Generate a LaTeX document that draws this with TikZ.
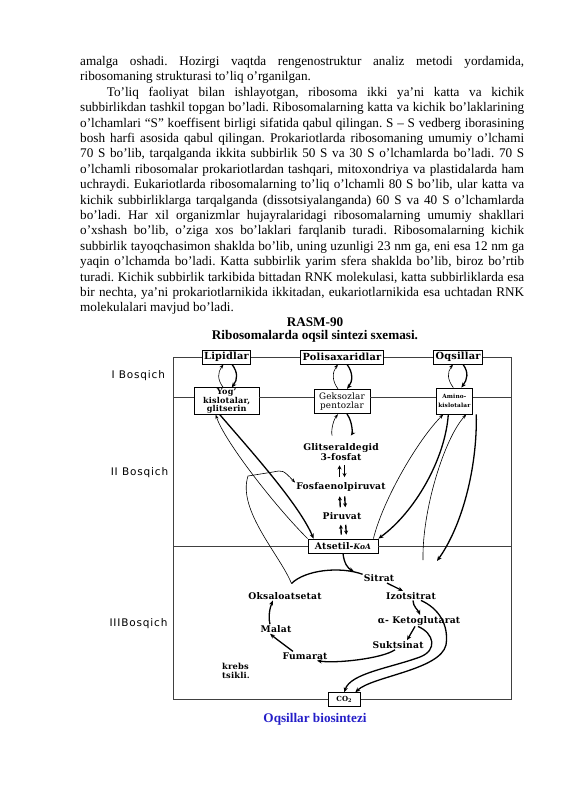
\documentclass[tikz,border=0pt]{standalone}
\usepackage{fontspec}
\setmainfont{Liberation Serif}
\newfontfamily\schemefont[LetterSpace=2]{DejaVu Serif}
\newfontfamily\stagefont[LetterSpace=8]{DejaVu Sans}
\usetikzlibrary{arrows.meta}
\definecolor{captionblue}{RGB}{36,30,200}

\begin{document}
\begin{tikzpicture}[x=1pt, y=-1pt]

\tikzstyle{topbox}=[draw, line width=0.8pt, inner xsep=2pt, inner ysep=1pt, minimum height=14pt, font=\schemefont\bfseries\fontsize{9.8}{11}\selectfont]
\tikzstyle{subbox}=[draw, line width=0.8pt, inner xsep=2pt, inner ysep=1pt, align=center, font=\schemefont\bfseries\fontsize{8.1}{8.3}\selectfont]
\tikzstyle{metab}=[inner sep=1pt, font=\schemefont\bfseries\fontsize{9.2}{10}\selectfont]
\tikzstyle{stage}=[font=\stagefont\fontsize{10.5}{11}\selectfont]
\tikzstyle{frameline}=[line width=0.6pt, black!75]
\tikzstyle{thinarrow}=[-{Stealth[length=4.5pt,width=3.2pt]}, line width=0.6pt]
\tikzstyle{thickarrow}=[-{Stealth[length=5pt,width=4.2pt]}, line width=1.3pt]
\tikzstyle{updown}=[-{Stealth[length=4pt,width=4pt]}, line width=1.4pt, shorten <=4pt, shorten >=4pt]

\useasboundingbox (0,0) rectangle (565,800);

% matn
\node[anchor=base west, inner sep=0] (body) at (80,65.5) {\parbox[t]{444pt}{\fontsize{13.2}{15.4}\selectfont\frenchspacing
\makebox[\linewidth][s]{amalga oshadi. Hozirgi vaqtda rengenostruktur analiz metodi yordamida,}\\
ribosomaning strukturasi to’liq o’rganilgan.\\
\hspace*{26.7pt}\makebox[417.3pt][s]{To’liq faoliyat bilan ishlayotgan, ribosoma ikki ya’ni katta va kichik}\\
\makebox[\linewidth][s]{subbirlikdan tashkil topgan bo’ladi. Ribosomalarning katta va kichik bo’laklarining}\\
\makebox[\linewidth][s]{o’lchamlari “S” koeffisent birligi sifatida qabul qilingan. S – S vedberg iborasining}\\
\makebox[\linewidth][s]{bosh harfi asosida qabul qilingan. Prokariotlarda ribosomaning umumiy o’lchami}\\
\makebox[\linewidth][s]{70 S bo’lib, tarqalganda ikkita subbirlik 50 S va 30 S o’lchamlarda bo’ladi. 70 S}\\
\makebox[\linewidth][s]{o’lchamli ribosomalar prokariotlardan tashqari, mitoxondriya va plastidalarda ham}\\
\makebox[\linewidth][s]{uchraydi. Eukariotlarda ribosomalarning to’liq o’lchamli 80 S bo’lib, ular katta va}\\
\makebox[\linewidth][s]{kichik subbirliklarga tarqalganda (dissotsiyalanganda) 60 S va 40 S o’lchamlarda}\\
\makebox[\linewidth][s]{bo’ladi. Har xil organizmlar hujayralaridagi ribosomalarning umumiy shakllari}\\
\makebox[\linewidth][s]{o’xshash bo’lib, o’ziga xos bo’laklari farqlanib turadi. Ribosomalarning kichik}\\
\makebox[\linewidth][s]{subbirlik tayoqchasimon shaklda bo’lib, uning uzunligi 23 nm ga, eni esa 12 nm ga}\\
\makebox[\linewidth][s]{yaqin o’lchamda bo’ladi. Katta subbirlik yarim sfera shaklda bo’lib, biroz bo’rtib}\\
\makebox[\linewidth][s]{turadi. Kichik subbirlik tarkibida bittadan RNK molekulasi, katta subbirliklarda esa}\\
\makebox[\linewidth][s]{bir nechta, ya’ni prokariotlarnikida ikkitadan, eukariotlarnikida esa uchtadan RNK}\\
molekulalari mavjud bo’ladi.}};

\node[font=\bfseries\fontsize{13.2}{15.4}\selectfont] (rasm) at (315,321.7) {RASM-90};
\node[font=\bfseries\fontsize{13.2}{15.4}\selectfont] (title) at (315,336.7) {Ribosomalarda oqsil sintezi sxemasi.};
\node[font=\bfseries\fontsize{13.2}{15.4}\selectfont, text=captionblue] (caption) at (315,719) {Oqsillar biosintezi};

% bosqichlar
\node[stage] (st1) at (138.3,375.7) {I Bosqich};
\node[stage] (st2) at (139.5,472.7) {II Bosqich};
\node[stage] (st3) at (138.5,623.3) {IIIBosqich};

% I bosqich
\node[topbox] (lip) at (226.5,357) {Lipidlar};
\node[topbox] (polis) at (342,357) {Polisaxaridlar};
\node[topbox] (oqs) at (458,357) {Oqsillar};
\node[subbox, minimum width=64.7pt, minimum height=25.7pt] (yog) at (226.7,401) {Yog’\\kislotalar,\\glitserin};
\node[subbox, font=\schemefont\fontsize{8.8}{8.7}\selectfont, minimum width=56pt, minimum height=24.4pt] (geks) at (342,401.5) {Geksozlar\\pentozlar};
\node[subbox, font=\schemefont\bfseries\fontsize{5.8}{9}\selectfont, minimum width=36.7pt, minimum height=26pt] (amino) at (454.3,401) {Amino-\\kislotalar};

% II bosqich
\node[metab, align=center] (glits) at (341,451.7) {Glitseraldegid\\3-fosfat};
\node[metab] (fosfa) at (341,486.7) {Fosfaenolpiruvat};
\node[metab] (piruv) at (342,516) {Piruvat};
\node[metab, draw, line width=0.8pt, inner xsep=3pt, minimum width=70pt, minimum height=14pt] (atsetil) at (343,546) {Atsetil-{\fontsize{7.5}{8}\selectfont\itshape KoA}};

% III bosqich
\node[metab] (sitrat) at (379,578.3) {Sitrat};
\node[metab] (izots) at (411,595.7) {Izotsitrat};
\node[metab] (ketog) at (419,620.7) {α- Ketoglutarat};
\node[metab] (sukts) at (398,645) {Suktsinat};
\node[metab] (fumar) at (305,656) {Fumarat};
\node[metab] (malat) at (276,629) {Malat};
\node[metab] (oksal) at (285,595.7) {Oksaloatsetat};
\node[metab, align=left, font=\schemefont\bfseries\fontsize{8.3}{8.5}\selectfont] (krebs) at (236,671) {krebs\\tsikli.};
\node[draw, line width=0.8pt, inner sep=1pt, minimum width=32pt, minimum height=14pt, font=\schemefont\bfseries\fontsize{7}{8}\selectfont] (co2) at (344.3,699.7) {CO\textsubscript{2}};

% ramka
\coordinate (tl) at (173,357);
\coordinate (tr) at (511,357);
\coordinate (l2) at (173,397);
\coordinate (r2) at (511,397);
\coordinate (l3) at (173,546);
\coordinate (r3) at (511,546);
\coordinate (bl) at (173,699.7);
\coordinate (br) at (511,699.7);
\draw[frameline] (tl) -- (bl);
\draw[frameline] (tr) -- (br);
\draw[frameline] (tl) -- (lip) -- (polis) -- (oqs) -- (tr);
\draw[frameline] (l2) -- (l2 -| yog.west) (yog.east |- l2) -- (geks.west |- l2) (geks.east |- l2) -- (amino.west |- l2) (amino.east |- l2) -- (r2);
\draw[frameline] (l3) -- (atsetil) -- (r3);
\draw[frameline] (bl) -- (co2) -- (br);

% I bosqich strelkalari
\draw[thinarrow] ([xshift=-3.5pt]yog.north) .. controls +(-6,-8) and +(-6,8) .. ([xshift=-3pt]lip.south);
\draw[thickarrow] ([xshift=5.5pt]lip.south) .. controls +(6,8) and +(6,-8) .. ([xshift=5pt]yog.north);
\draw[thinarrow] ([xshift=-4pt]geks.north) .. controls +(-6,-8) and +(-6,8) .. ([xshift=-4pt]polis.south);
\draw[thickarrow] ([xshift=5pt]polis.south) .. controls +(6,8) and +(6,-8) .. ([xshift=5pt]geks.north);
\draw[thinarrow] ([xshift=-1pt]amino.north) .. controls +(-6,-8) and +(-6,8) .. ([xshift=-5pt]oqs.south);
\draw[thickarrow] ([xshift=5pt]oqs.south) .. controls +(6,8) and +(6,-8) .. ([xshift=7pt]amino.north);

% II bosqich strelkalari
\draw[thinarrow, shorten <=8pt] ([xshift=-4pt]glits.north) .. controls +(-6,-8) and +(-6,8) .. ([xshift=-4pt]geks.south);
\draw[thickarrow, shorten >=8pt] ([xshift=5pt]geks.south) .. controls +(6,8) and +(6,-8) .. ([xshift=5pt]glits.north);
\draw[updown] ([xshift=-1.5pt]fosfa.north) -- ([xshift=-1.5pt]glits.south);
\draw[updown] ([xshift=3.5pt]glits.south) -- ([xshift=3.5pt]fosfa.north);
\draw[updown] ([xshift=-1.5pt]piruv.north) -- ([xshift=-1.5pt]fosfa.south);
\draw[updown] ([xshift=3.5pt]fosfa.south) -- ([xshift=3.5pt]piruv.north);
\draw[updown] ([xshift=-1.5pt]atsetil.north) -- ([xshift=-1.5pt]piruv.south);
\draw[updown] ([xshift=3.5pt]piruv.south) -- ([xshift=3.5pt]atsetil.north);

\draw[thickarrow] ([xshift=-7pt]yog.south) .. controls +(30,35) and +(-15,-35) .. ([xshift=6pt]atsetil.north west);
\draw[thinarrow] (atsetil.north west) .. controls +(-35,-35) and +(8,25) .. ([xshift=-11pt]yog.south);
\draw[thinarrow] ([xshift=-5pt]atsetil.north east) .. controls +(10,-40) and +(-25,25) .. ([xshift=-11pt]amino.south);
\draw[thickarrow] ([xshift=-6pt]amino.south) .. controls +(-3,44) and +(37,-27) .. (atsetil.north east);

\coordinate (kin) at (423,560);
\coordinate (kout) at (437,561);
\draw[thinarrow] (kin) .. controls +(-1,-50) and +(-22,24) .. ([xshift=12pt]amino.south);
\draw[thickarrow] ([xshift=22pt]amino.south) .. controls +(1,54) and +(25,-35) .. (kout);

\coordinate (oktop) at (291.5,583.5);
\draw[thinarrow] (oktop) .. controls (280,555) and (237,510) .. (248,476) -- (273,472) .. controls (283,470) .. ([yshift=4pt]fosfa.west);

% Krebs tsikli
\coordinate (acin) at (354,571.5);
\draw[thickarrow] (atsetil.south) .. controls +(1,10) and +(-6,-3) .. (acin);
\draw[line width=1.3pt] (oktop) .. controls (305,570) and (340,566) .. ([yshift=4pt]sitrat.west);
\draw[thickarrow] ([xshift=8pt]sitrat.south) -- ([xshift=-8pt]izots.north);
\draw[thickarrow] ([xshift=2pt]izots.south) .. controls +(0,6) and +(-2,-5) .. ([xshift=1pt]ketog.north);
\draw[thickarrow] ([xshift=10pt]izots.south) .. controls +(18,8) and +(3,-20) .. (446,645) .. controls +(-6,25) and +(17,-16) .. ([xshift=11pt]co2.north);
\draw[thickarrow] ([xshift=-4pt]ketog.south) -- ([xshift=9pt]sukts.north);
\draw[thickarrow] ([xshift=-1pt]ketog.south) .. controls +(16,7) and +(18,-7) .. (420,657) .. controls +(-30,11) and +(6,-19) .. (co2.north);
\draw[thickarrow] ([xshift=-3pt]sukts.south) .. controls +(-13,9) and +(18,3) .. ([xshift=12pt]fumar.south);
\draw[thickarrow] ([xshift=-12pt]fumar.north) .. controls +(-8,-6) and +(6,5) .. ([xshift=-6pt]malat.south);
\draw[thickarrow] ([xshift=-6pt]malat.north) .. controls +(-2,-8) and +(-3,7) .. ([xshift=-12pt]oksal.south);

\end{tikzpicture}
\end{document}
